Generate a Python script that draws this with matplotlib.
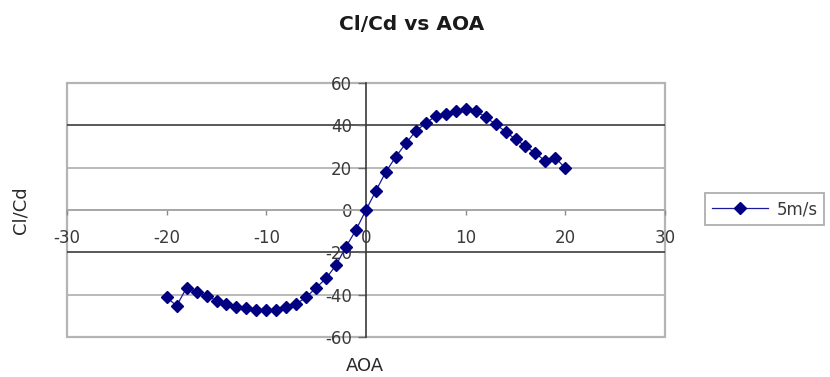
import matplotlib
matplotlib.use("Agg")
import matplotlib.pyplot as plt

# Data
aoa = [-20, -19, -18, -17, -16, -15, -14, -13, -12, -11, -10, -9, -8, -7, -6,
       -5, -4, -3, -2, -1, 0, 1, 2, 3, 4, 5, 6, 7, 8, 9, 10, 11, 12, 13, 14,
       15, 16, 17, 18, 19, 20]
cl_cd = [-41.2, -45.3, -36.7, -38.6, -40.6, -42.8, -44.4, -45.7, -46.5, -47.2,
         -47.2, -47.2, -46.0, -44.4, -41.2, -36.7, -32.3, -26.0, -17.3, -9.4,
         0.0, 9.1, 18.1, 25.2, 31.5, 37.3, 41.0, 44.4, 45.3, 46.9, 47.7, 46.9,
         43.8, 40.6, 37.0, 33.4, 30.2, 26.8, 23.1, 24.7, 19.7]
series_name = "5m/s"
title = "Cl/Cd vs AOA"
x_label = "AOA"
y_label = "Cl/Cd"
x_ticks = [-30, -20, -10, 0, 10, 20, 30]
y_ticks = [-60, -40, -20, 0, 20, 40, 60]
dark_grid = [40, -20]

plt.rcParams['font.family'] = ['DejaVu Sans']
plt.rcParams['axes.unicode_minus'] = False

W, H = 830, 377
fig = plt.figure(figsize=(W / 100, H / 100), dpi=100)
L, R, T, B = 67, 665, 83, 337
ax = fig.add_axes([L / W, 1 - B / H, (R - L) / W, (B - T) / H])

navy = '#000080'
ax.plot(aoa, cl_cd, color='#1a1a9a', linewidth=0.9, marker='D',
        markersize=6, markerfacecolor=navy, markeredgecolor=navy,
        label=series_name, zorder=5)

ax.set_xlim(x_ticks[0], x_ticks[-1])
ax.set_ylim(y_ticks[0], y_ticks[-1])
ax.set_xticks(x_ticks)
ax.set_yticks(y_ticks)

# Excel-like axes crossing at zero
ax.spines['left'].set_position(('data', 0))
ax.spines['bottom'].set_position(('data', 0))
ax.spines['left'].set_color('#3a3a3a')
ax.spines['left'].set_linewidth(1.2)
ax.spines['bottom'].set_color('#a8a8a8')
ax.spines['bottom'].set_linewidth(1.4)
ax.spines['top'].set_visible(False)
ax.spines['right'].set_visible(False)
ax.patch.set_edgecolor('#b4b4b4')
ax.patch.set_linewidth(1.6)

ax.tick_params(axis='x', direction='out', length=3.5, width=1, colors='#8a8a8a',
               pad=10.5, labelsize=12, labelcolor='#3a3a3a')
ax.tick_params(axis='y', direction='out', length=5.5, width=1, colors='#6a6a6a',
               pad=4.5, labelsize=12, labelcolor='#3a3a3a')

ax.yaxis.grid(True, linewidth=1.3, color='#b4b4b4')
for val, gl in zip(y_ticks, ax.yaxis.get_gridlines()):
    if val in dark_grid:
        gl.set_color('#3c3c3c')
        gl.set_linewidth(1.2)
ax.set_axisbelow(True)

ax.set_xlabel(x_label, fontsize=13, color='#2a2a2a')
ax.xaxis.set_label_coords(0.498, -0.08)
ax.set_ylabel(y_label, fontsize=13, color='#2a2a2a')
ax.yaxis.set_label_coords(-0.062, 0.5)

fig.suptitle(title, x=412 / W, y=1 - 25 / H, va='center', fontsize=14.5,
             fontweight='bold', color='#1a1a1a')

leg = ax.legend(loc='center left', bbox_to_anchor=(705 / W, 1 - 209 / H),
                bbox_transform=fig.transFigure, fontsize=12, frameon=True,
                fancybox=False, edgecolor='#9a9a9a', handlelength=3.4,
                borderpad=0.4, handletextpad=0.5, borderaxespad=0)
leg.get_frame().set_linewidth(1.3)
for t in leg.get_texts():
    t.set_color('#3a3a3a')

fig.savefig('out.png', dpi=100)
